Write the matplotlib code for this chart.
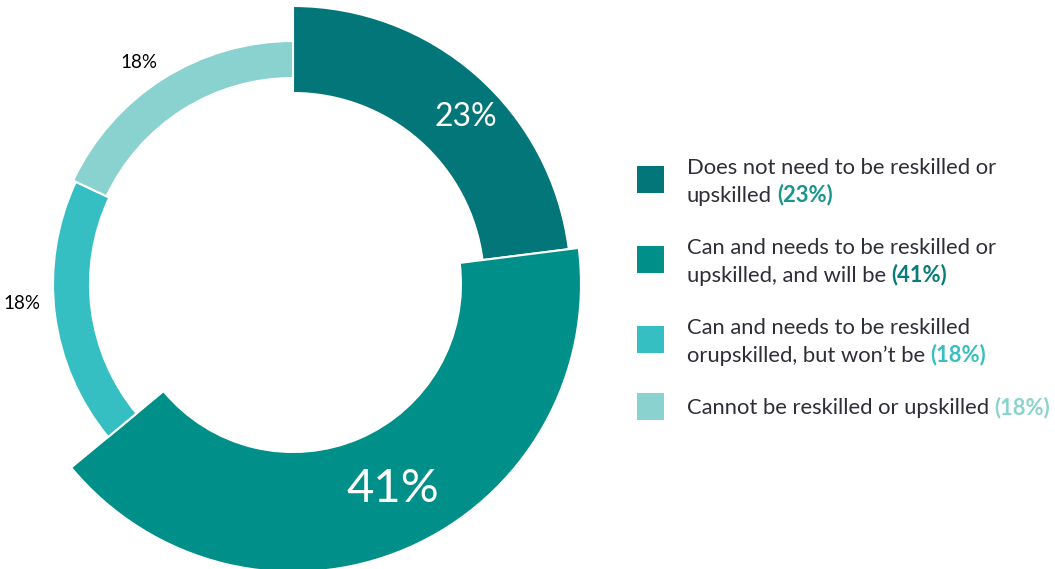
import numpy as np
import matplotlib
matplotlib.use("Agg")
import matplotlib.pyplot as plt
from matplotlib.patches import Wedge, Rectangle

# data
shares = [23, 41, 18, 18]
legend_lines = [
    ["Does not need to be reskilled or", "upskilled"],
    ["Can and needs to be reskilled or", "upskilled, and will be"],
    ["Can and needs to be reskilled", "orupskilled, but won\u2019t be"],
    ["Cannot be reskilled or upskilled"],
]

# styles
colors = ["#03767A", "#018F89", "#36BFC2", "#89D2CF"]
pct_colors = ["#17958F", "#0A7B7B", "#3ABFC0", "#8AD3CF"]
ring_inner = [191, 168, 203, 206]
ring_outer = [278, 288, 240, 243]
label_r = [240, 228, 272, 270]
label_shift = [-4.5, 2.5, -3, 2.5]   # degrees away from the segment middle
label_size = [23, 34, 13.5, 13.5]
label_color = ["white", "white", "black", "black"]
text_color = "#2E2E38"

W, H = 1055, 569
plt.rcParams["font.family"] = ["Lato", "DejaVu Sans"]

fig = plt.figure(figsize=(W / 100, H / 100), dpi=100)
ax = fig.add_axes([0, 0, 1, 1])
ax.set_xlim(0, W)
ax.set_ylim(0, H)
ax.axis("off")

cx, cy = 293, H - 284
bounds = 90 - 360 * np.concatenate([[0], np.cumsum(shares)]) / sum(shares)

for i, share in enumerate(shares):
    t1, t2 = bounds[i + 1], bounds[i]
    ax.add_patch(Wedge((cx, cy), ring_outer[i], t1, t2,
                       width=ring_outer[i] - ring_inner[i],
                       facecolor=colors[i], edgecolor="white", linewidth=1.5))
    mid = np.deg2rad((t1 + t2) / 2 + label_shift[i])
    r = label_r[i]
    ax.text(cx + r * np.cos(mid), cy + r * np.sin(mid), f"{share}%",
            color=label_color[i], fontsize=label_size[i], ha="center", va="center")

# legend
renderer = fig.canvas.get_renderer()
baseline = 174
line_gap = 27.5
item_gap = 80
sq = 27
for i, lines in enumerate(legend_lines):
    first = baseline + i * item_gap
    last = first + line_gap * (len(lines) - 1)
    sq_c = (first + last) / 2 - 8
    ax.add_patch(Rectangle((637, H - sq_c - sq / 2), sq, sq, facecolor=colors[i], edgecolor="none"))
    for j, line in enumerate(lines):
        t = ax.text(687, H - (first + j * line_gap), line, color=text_color,
                    fontsize=15.8, ha="left", va="baseline")
    bb = t.get_window_extent(renderer=renderer)
    x_end = ax.transData.inverted().transform((bb.x1, bb.y0))[0]
    ax.text(x_end + 5, H - last, f"({shares[i]}%)", color=pct_colors[i],
            fontsize=15.8, fontweight="bold", ha="left", va="baseline")

fig.savefig("out.png", dpi=100)
